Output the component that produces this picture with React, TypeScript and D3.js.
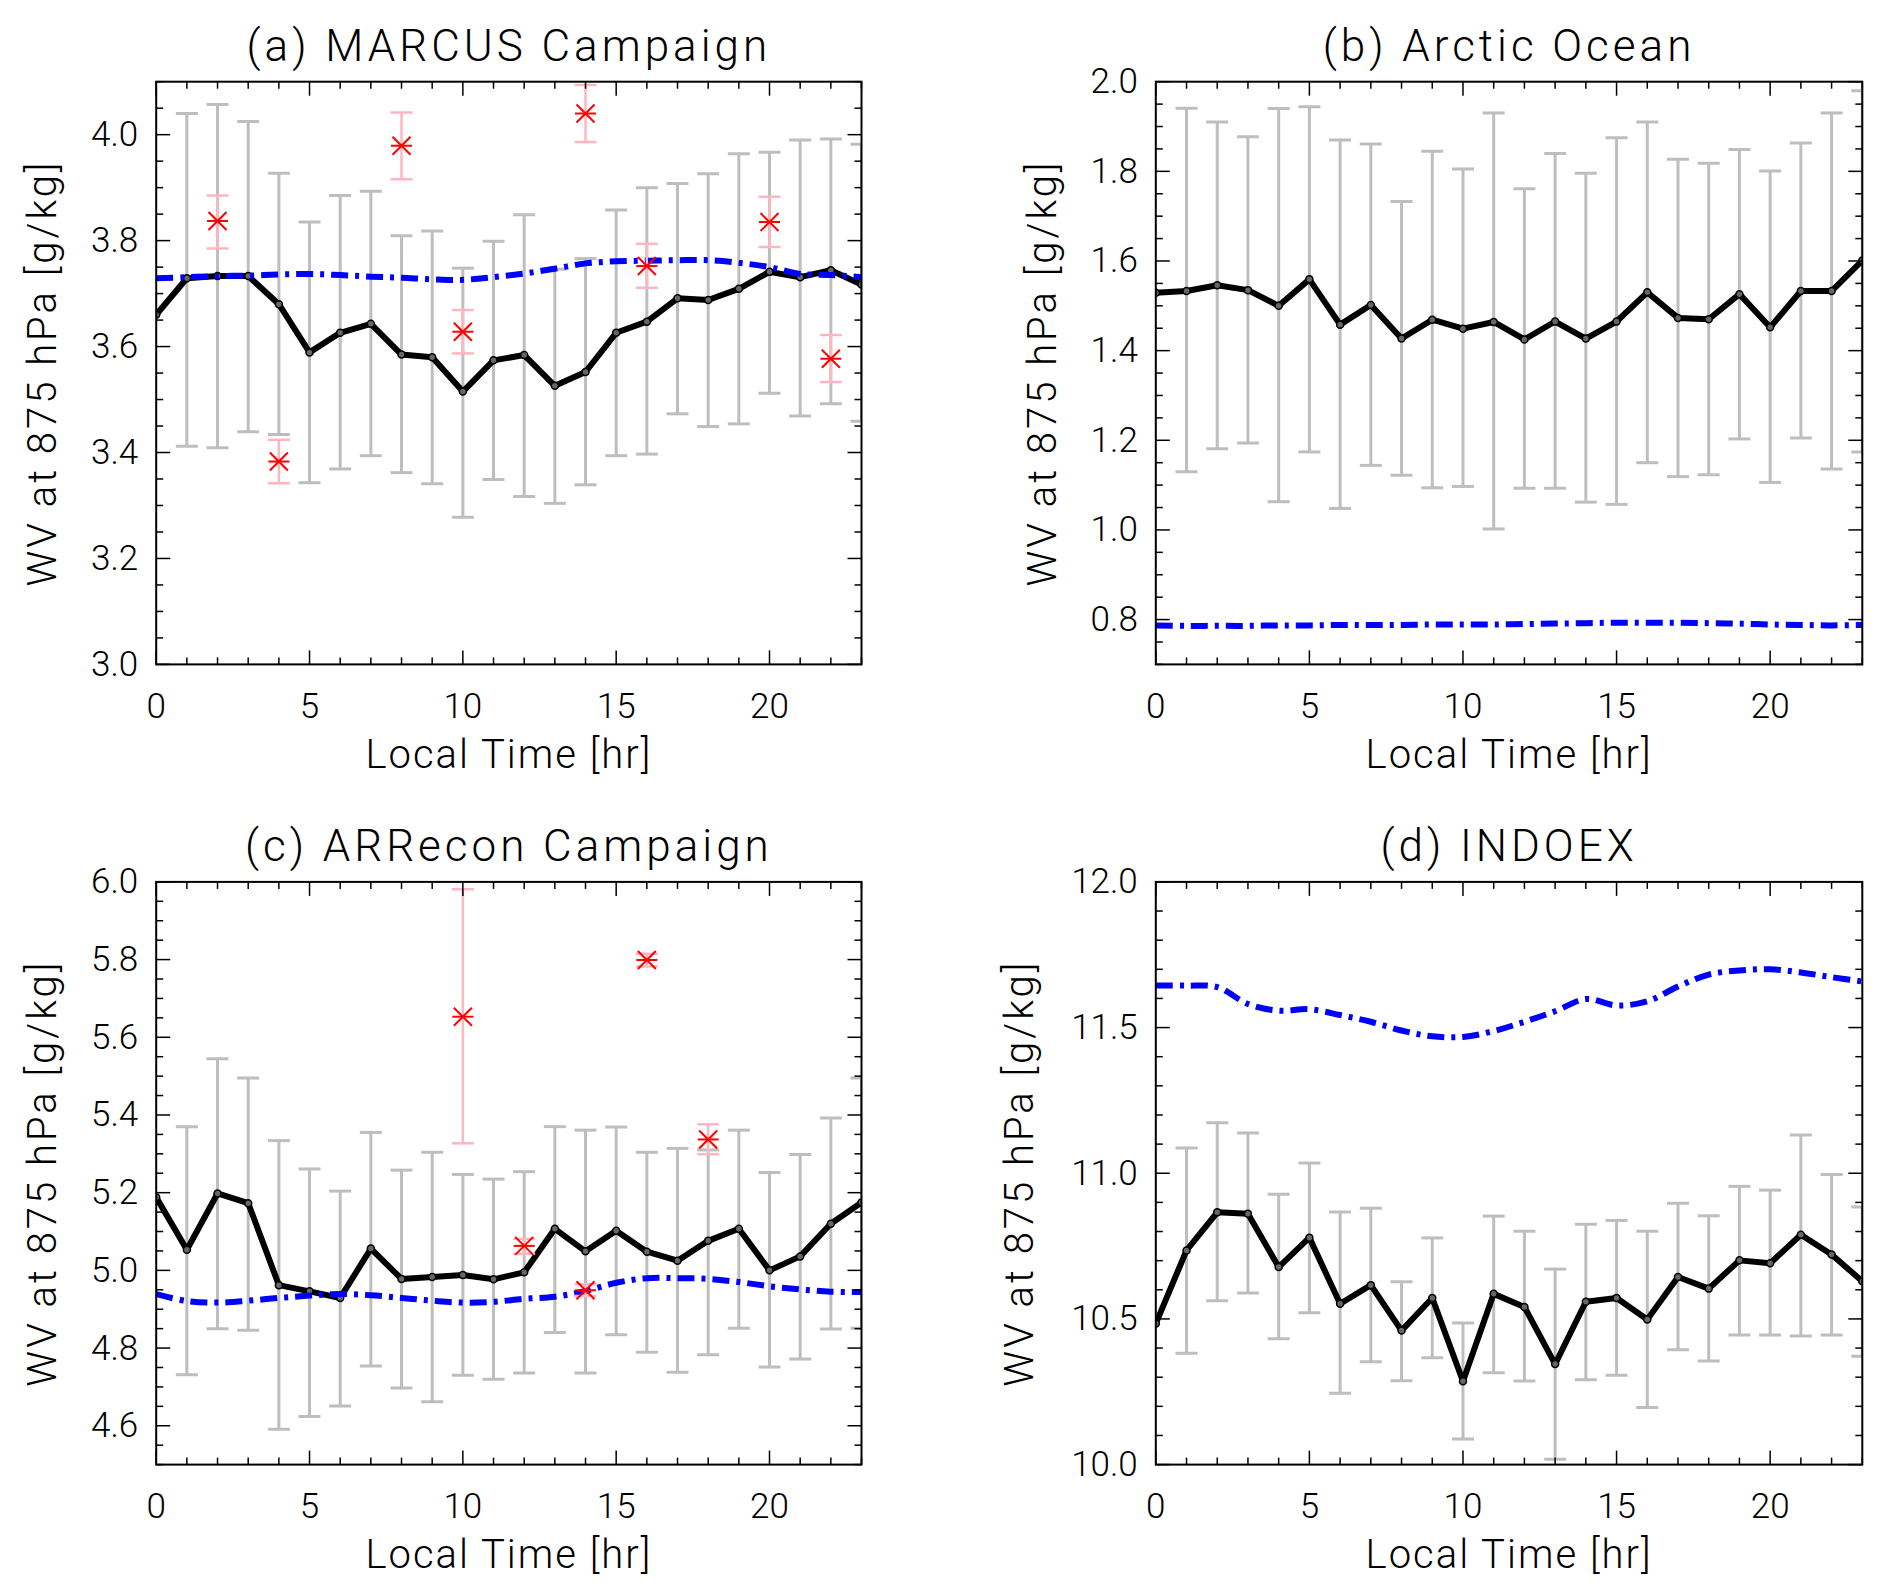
import React from 'react';
import * as d3 from 'd3';

const hours = [0, 1, 2, 3, 4, 5, 6, 7, 8, 9, 10, 11, 12, 13, 14, 15, 16, 17, 18, 19, 20, 21, 22, 23];
const xMajorTicks = [0, 5, 10, 15, 20];

// (a) MARCUS
const marcusMean = [3.660, 3.729, 3.733, 3.733, 3.680, 3.589, 3.626, 3.643, 3.585, 3.580, 3.515, 3.574, 3.584, 3.526, 3.552, 3.626, 3.647, 3.691, 3.688, 3.709, 3.741, 3.731, 3.744, 3.717];
const marcusHi = [null, 4.040, 4.057, 4.025, 3.927, 3.835, 3.885, 3.893, 3.809, 3.818, 3.748, 3.799, 3.849, 3.746, 3.766, 3.858, 3.900, 3.908, 3.926, 3.964, 3.967, 3.990, 3.992, 3.982];
const marcusLo = [null, 3.412, 3.409, 3.439, 3.434, 3.343, 3.369, 3.394, 3.362, 3.341, 3.278, 3.349, 3.317, 3.304, 3.339, 3.394, 3.397, 3.473, 3.449, 3.454, 3.512, 3.469, 3.492, 3.459];
const marcusModel = [3.729, 3.731, 3.733, 3.734, 3.736, 3.737, 3.735, 3.732, 3.730, 3.727, 3.726, 3.731, 3.738, 3.747, 3.757, 3.761, 3.762, 3.763, 3.763, 3.758, 3.750, 3.737, 3.735, 3.731];
const marcusObsHours = [2, 4, 8, 10, 14, 16, 20, 22];
const marcusObs = [3.837, 3.383, 3.979, 3.628, 4.040, 3.752, 3.835, 3.577];
const marcusObsHi = [3.885, 3.424, 4.042, 3.669, 4.094, 3.794, 3.883, 3.622];
const marcusObsLo = [3.785, 3.342, 3.916, 3.587, 3.986, 3.711, 3.788, 3.533];
const marcusYTicks = [3.0, 3.2, 3.4, 3.6, 3.8, 4.0];

// (b) Arctic Ocean
const arcticMean = [1.529, 1.533, 1.546, 1.535, 1.500, 1.559, 1.458, 1.502, 1.427, 1.469, 1.449, 1.464, 1.425, 1.465, 1.427, 1.465, 1.530, 1.473, 1.470, 1.526, 1.452, 1.533, 1.533, 1.601];
const arcticHi = [null, 1.941, 1.910, 1.877, 1.940, 1.944, 1.870, 1.861, 1.733, 1.845, 1.805, 1.930, 1.761, 1.840, 1.796, 1.875, 1.910, 1.827, 1.818, 1.849, 1.801, 1.863, 1.930, 1.980];
const arcticLo = [null, 1.130, 1.181, 1.194, 1.063, 1.174, 1.048, 1.144, 1.122, 1.094, 1.097, 1.002, 1.093, 1.093, 1.062, 1.057, 1.150, 1.119, 1.123, 1.203, 1.106, 1.205, 1.136, 1.174];
const arcticModel = [0.787, 0.786, 0.786, 0.786, 0.787, 0.787, 0.788, 0.788, 0.788, 0.789, 0.789, 0.789, 0.790, 0.791, 0.792, 0.793, 0.793, 0.793, 0.792, 0.791, 0.789, 0.788, 0.787, 0.788];
const arcticYTicks = [0.8, 1.0, 1.2, 1.4, 1.6, 1.8, 2.0];

// (c) ARRecon
const arrMean = [5.188, 5.053, 5.198, 5.173, 4.962, 4.946, 4.929, 5.056, 4.978, 4.983, 4.988, 4.977, 4.995, 5.107, 5.049, 5.102, 5.048, 5.025, 5.076, 5.107, 5.000, 5.036, 5.120, 5.175];
const arrHi = [null, 5.370, 5.545, 5.495, 5.334, 5.261, 5.204, 5.355, 5.258, 5.304, 5.247, 5.235, 5.254, 5.370, 5.361, 5.369, 5.304, 5.314, 5.310, 5.361, 5.252, 5.298, 5.392, 5.495];
const arrLo = [null, 4.731, 4.850, 4.846, 4.591, 4.624, 4.651, 4.754, 4.697, 4.662, 4.730, 4.720, 4.736, 4.840, 4.736, 4.834, 4.789, 4.738, 4.783, 4.851, 4.751, 4.772, 4.849, 4.851];
const arrModel = [4.939, 4.921, 4.917, 4.922, 4.929, 4.935, 4.939, 4.936, 4.929, 4.922, 4.917, 4.919, 4.927, 4.932, 4.947, 4.968, 4.980, 4.980, 4.978, 4.970, 4.959, 4.951, 4.945, 4.944];
const arrObsHours = [10, 12, 14, 16, 18];
const arrObs = [5.653, 5.063, 4.949, 5.799, 5.337];
const arrObsHi = [5.981, 5.081, 4.964, 5.815, 5.376];
const arrObsLo = [5.327, 5.043, 4.934, 5.782, 5.299];
const arrYTicks = [4.6, 4.8, 5.0, 5.2, 5.4, 5.6, 5.8, 6.0];

// (d) INDOEX
const indoMean = [10.484, 10.735, 10.866, 10.861, 10.678, 10.779, 10.552, 10.616, 10.460, 10.572, 10.286, 10.586, 10.541, 10.345, 10.559, 10.572, 10.498, 10.644, 10.604, 10.701, 10.691, 10.789, 10.721, 10.629];
const indoHi = [null, 11.087, 11.173, 11.138, 10.928, 11.035, 10.867, 10.880, 10.628, 10.778, 10.486, 10.853, 10.801, 10.671, 10.825, 10.838, 10.801, 10.897, 10.854, 10.955, 10.942, 11.131, 10.996, 10.884];
const indoLo = [null, 10.382, 10.562, 10.589, 10.432, 10.521, 10.245, 10.353, 10.288, 10.367, 10.088, 10.315, 10.287, 10.018, 10.291, 10.307, 10.196, 10.394, 10.356, 10.445, 10.445, 10.441, 10.445, 10.372];
const indoModel = [11.644, 11.644, 11.639, 11.581, 11.558, 11.563, 11.543, 11.520, 11.490, 11.470, 11.468, 11.488, 11.520, 11.556, 11.598, 11.576, 11.590, 11.641, 11.682, 11.696, 11.700, 11.689, 11.673, 11.658];
const indoYTicks = [10.0, 10.5, 11.0, 11.5, 12.0];

const FONT = 'Roboto, "DejaVu Sans", sans-serif';
const FW = 300;
const GREY = '#bebebe';
const PINK = '#ffb6c1';

type PanelProps = {
  id: string;
  title: string;
  left: number; right: number; top: number; bottom: number;
  yDomain: [number, number];
  yTicks: number[];
  yMinorCount: number;
  yLabelX: number;
  mean: number[];
  hi: (number | null)[];
  lo: (number | null)[];
  model: number[];
  obsHours?: number[];
  obs?: number[];
  obsHi?: number[];
  obsLo?: number[];
};

function Panel(p: PanelProps) {
  const x = d3.scaleLinear().domain([0, 23]).range([p.left, p.right]);
  const y = d3.scaleLinear().domain(p.yDomain).range([p.bottom, p.top]);
  const xMinor = x.ticks(23);
  const yMinor = y.ticks(p.yMinorCount);
  const meanLine = d3.line<number>().x((_, i) => x(hours[i])).y((d) => y(d));
  const modelLine = d3.line<number>().x((_, i) => x(hours[i])).y((d) => y(d)).curve(d3.curveCatmullRom.alpha(0.5));
  const capW = 11;
  const majLen = 14;
  const minLen = 7;
  const cx = (p.left + p.right) / 2;
  const cy = (p.top + p.bottom) / 2;
  const star = (sx: number, sy: number, key: string) => {
    const r = 10.5;
    const dx = 9;
    const dy = 9;
    return (
      <g key={key} stroke="#ff0000" strokeWidth={2}>
        <line x1={sx - r} y1={sy} x2={sx + r} y2={sy} />
        <line x1={sx - dx} y1={sy - dy} x2={sx + dx} y2={sy + dy} />
        <line x1={sx - dx} y1={sy + dy} x2={sx + dx} y2={sy - dy} />
      </g>
    );
  };
  return (
    <g>
      <defs>
        <clipPath id={`clip-${p.id}`}>
          <rect x={p.left} y={p.top} width={p.right - p.left} height={p.bottom - p.top} />
        </clipPath>
      </defs>
      <g clipPath={`url(#clip-${p.id})`}>
        {hours.map((h, i) => {
          const a = p.hi[i];
          const b = p.lo[i];
          if (a == null || b == null) return null;
          return (
            <g key={`eb${i}`} stroke={GREY} strokeWidth={3}>
              <line x1={x(h)} x2={x(h)} y1={y(a)} y2={y(b)} />
              <line x1={x(h) - capW} x2={x(h) + capW} y1={y(a)} y2={y(a)} />
              <line x1={x(h) - capW} x2={x(h) + capW} y1={y(b)} y2={y(b)} />
            </g>
          );
        })}
        <path d={meanLine(p.mean) || ''} fill="none" stroke="#000" strokeWidth={6} strokeLinejoin="round" />
        {p.mean.map((v, i) => (
          <circle key={`c${i}`} cx={x(hours[i])} cy={y(v)} r={3.5} fill="#666" stroke="#000" strokeWidth={1.5} />
        ))}
        <path d={modelLine(p.model) || ''} fill="none" stroke="#0000ff" strokeWidth={6} strokeDasharray="17 7 4 7" />
        {p.obsHours && p.obsHours.map((h, i) => (
          <g key={`o${i}`} stroke={PINK} strokeWidth={2.5}>
            <line x1={x(h)} x2={x(h)} y1={y(p.obsHi![i])} y2={y(p.obsLo![i])} />
            <line x1={x(h) - capW} x2={x(h) + capW} y1={y(p.obsHi![i])} y2={y(p.obsHi![i])} />
            <line x1={x(h) - capW} x2={x(h) + capW} y1={y(p.obsLo![i])} y2={y(p.obsLo![i])} />
          </g>
        ))}
        {p.obsHours && p.obsHours.map((h, i) => star(x(h), y(p.obs![i]), `s${i}`))}
      </g>
      <rect x={p.left} y={p.top} width={p.right - p.left} height={p.bottom - p.top} fill="none" stroke="#000" strokeWidth={2} />
      {xMinor.map((t) => {
        const L = xMajorTicks.includes(t) ? majLen : minLen;
        return (
          <g key={`xt${t}`} stroke="#000" strokeWidth={1.5}>
            <line x1={x(t)} x2={x(t)} y1={p.bottom} y2={p.bottom - L} />
            <line x1={x(t)} x2={x(t)} y1={p.top} y2={p.top + L} />
          </g>
        );
      })}
      {xMajorTicks.map((t) => (
        <text key={`xl${t}`} x={x(t)} y={p.bottom + 42} fontSize={35} fontWeight={FW} fontFamily={FONT} textAnchor="middle" dominantBaseline="central" fill="#000">{t}</text>
      ))}
      {yMinor.map((t) => {
        const isMaj = p.yTicks.some((m) => Math.abs(m - t) < 1e-6);
        const L = isMaj ? majLen : minLen;
        return (
          <g key={`yt${t}`} stroke="#000" strokeWidth={1.5}>
            <line x1={p.left} x2={p.left + L} y1={y(t)} y2={y(t)} />
            <line x1={p.right} x2={p.right - L} y1={y(t)} y2={y(t)} />
          </g>
        );
      })}
      {p.yTicks.map((t) => (
        <text key={`yl${t}`} x={p.left - 18} y={y(t)} fontSize={35} fontWeight={FW} fontFamily={FONT} textAnchor="end" dominantBaseline="central" fill="#000">{t.toFixed(1)}</text>
      ))}
      <text x={cx} y={p.top - 36} fontSize={44} fontWeight={FW} fontFamily={FONT} textAnchor="middle" dominantBaseline="central" letterSpacing={4} fill="#000">{p.title}</text>
      <text x={cx} y={p.bottom + 90} fontSize={40} fontWeight={FW} fontFamily={FONT} textAnchor="middle" dominantBaseline="central" letterSpacing={2} fill="#000">Local Time [hr]</text>
      <text transform={`translate(${p.yLabelX},${cy}) rotate(-90)`} fontSize={40} fontWeight={FW} fontFamily={FONT} textAnchor="middle" dominantBaseline="central" letterSpacing={3} fill="#000">WV at 875 hPa [g/kg]</text>
    </g>
  );
}

export default function App() {
  const colL = [156.2, 861.5];
  const colR = [1155.8, 1862.3];
  const rowT = [81.7, 664.4];
  const rowB = [881.9, 1464.6];
  return (
    <svg width={1884} height={1596} style={{ position: 'absolute', left: 0, top: 0, background: '#fff' }}>
      <rect x={0} y={0} width={1884} height={1596} fill="#fff" />
      <Panel id="a" title="(a) MARCUS Campaign" left={colL[0]} right={colL[1]} top={rowT[0]} bottom={rowT[1]}
        yDomain={[3.0, 4.1]} yTicks={marcusYTicks} yMinorCount={22} yLabelX={42}
        mean={marcusMean} hi={marcusHi} lo={marcusLo} model={marcusModel}
        obsHours={marcusObsHours} obs={marcusObs} obsHi={marcusObsHi} obsLo={marcusObsLo} />
      <Panel id="b" title="(b) Arctic Ocean" left={colR[0]} right={colR[1]} top={rowT[0]} bottom={rowT[1]}
        yDomain={[0.7, 2.0]} yTicks={arcticYTicks} yMinorCount={26} yLabelX={1042}
        mean={arcticMean} hi={arcticHi} lo={arcticLo} model={arcticModel} />
      <Panel id="c" title="(c) ARRecon Campaign" left={colL[0]} right={colL[1]} top={rowB[0]} bottom={rowB[1]}
        yDomain={[4.5, 6.0]} yTicks={arrYTicks} yMinorCount={30} yLabelX={42}
        mean={arrMean} hi={arrHi} lo={arrLo} model={arrModel}
        obsHours={arrObsHours} obs={arrObs} obsHi={arrObsHi} obsLo={arrObsLo} />
      <Panel id="d" title="(d) INDOEX" left={colR[0]} right={colR[1]} top={rowB[0]} bottom={rowB[1]}
        yDomain={[10.0, 12.0]} yTicks={indoYTicks} yMinorCount={20} yLabelX={1019}
        mean={indoMean} hi={indoHi} lo={indoLo} model={indoModel} />
    </svg>
  );
}
